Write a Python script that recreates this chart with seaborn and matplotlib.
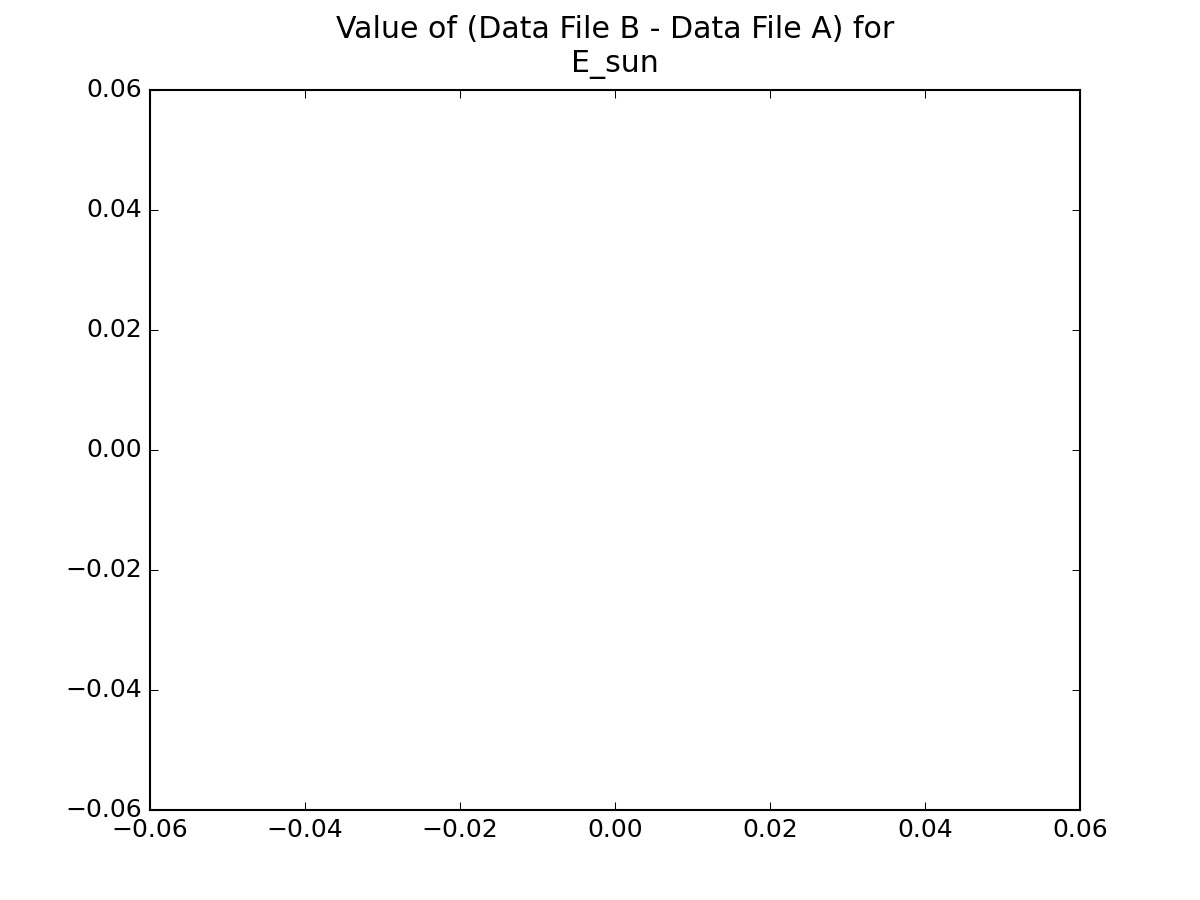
import matplotlib
matplotlib.use("Agg")
import matplotlib.pyplot as plt
import seaborn as sns

# difference values (file B - file A); nothing to plot in this chart
x_values = []
y_values = []
title = 'Value of (Data File B - Data File A) for\nE_sun'

plt.style.use('classic')
plt.rcParams['font.family'] = ['DejaVu Sans']

fig = plt.figure(figsize=(8, 6), dpi=150, facecolor='white')
ax = fig.add_subplot(111)
sns.scatterplot(x=x_values, y=y_values, ax=ax)
ax.set_xlim(-0.06, 0.06)
ax.set_ylim(-0.06, 0.06)
ax.set_xticks([-0.06, -0.04, -0.02, 0.0, 0.02, 0.04, 0.06])
ax.set_yticks([-0.06, -0.04, -0.02, 0.0, 0.02, 0.04, 0.06])
ax.set_title(title, pad=8.8)
fig.savefig('out.png', dpi=150, facecolor='white')
